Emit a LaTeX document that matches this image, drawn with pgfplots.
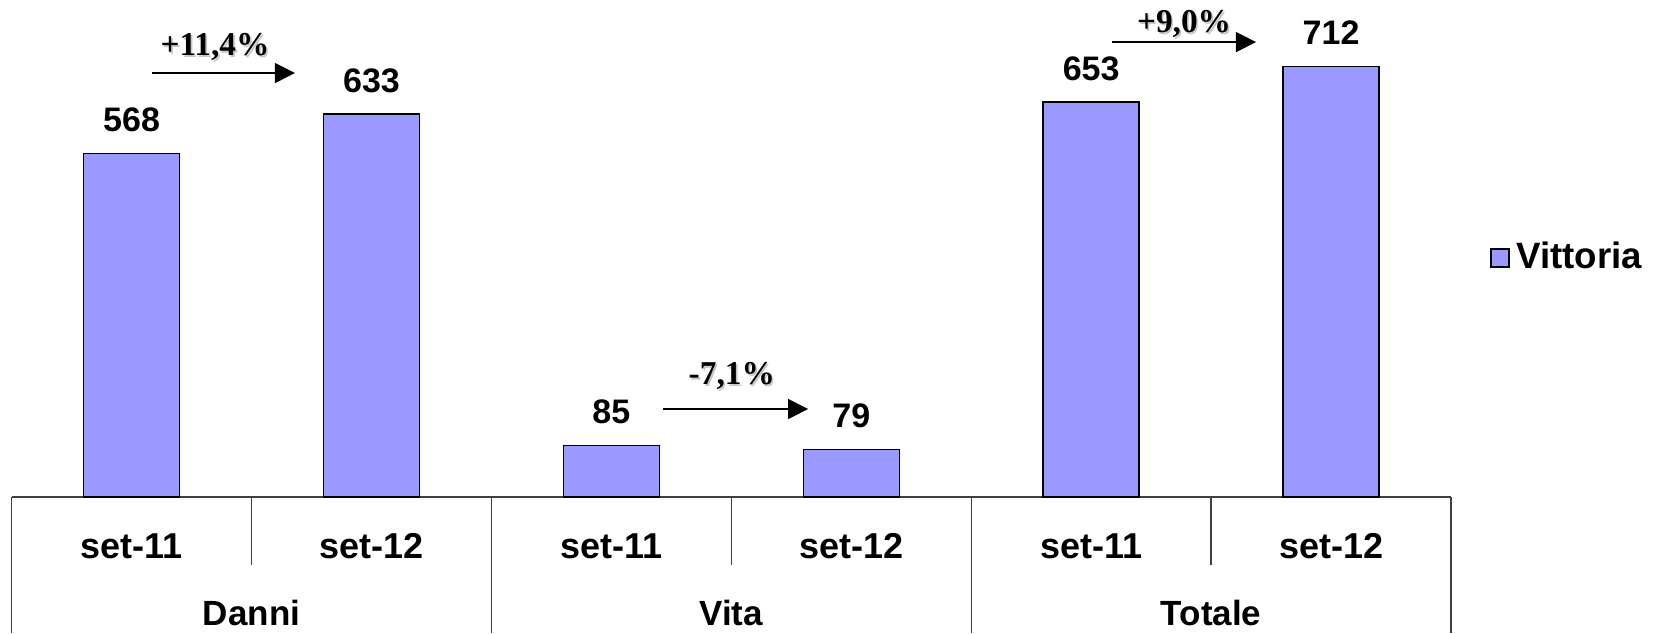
\documentclass[border=0pt]{standalone}
\usepackage{pgfplots}
\pgfplotsset{compat=1.18}
\usepackage{fontspec}
\setmainfont{Liberation Sans}
\newfontfamily\timesf{Liberation Serif}
\usetikzlibrary{arrows.meta}
\definecolor{barcol}{HTML}{9999FF}
\tikzset{pct/.style={font=\timesf\bfseries\fontsize{10}{12}\selectfont},
  pctsh/.style={pct, text=black!22, xshift=0.5pt, yshift=-0.5pt},
  grp/.style={font=\fontsize{10.5}{12}\selectfont\bfseries},
  sep/.style={black!75, line width=0.4pt},
  arr/.style={-{Triangle[length=6pt,width=6pt]}, line width=0.45pt}}
\begin{document}
\begin{tikzpicture}
\begin{axis}[
  scale only axis, width=431.8pt, height=149.1pt,
  xmin=-0.5, xmax=5.5, ymin=0, ymax=821.5,
  axis x line=bottom, axis y line=none,
  x axis line style={-, line width=0.4pt, draw=black!75},
  xtick={0,...,5},
  xticklabels={set-11,set-12,set-11,set-12,set-11,set-12},
  xtick style={draw=none},
  xticklabel style={font=\fontsize{10.8}{12}\selectfont\bfseries, anchor=center, yshift=-10.5pt},
  ybar, bar width=0.4,
  clip=false,
  /pgf/number format/assume math mode=true,
  nodes near coords,
  nodes near coords style={font=\fontsize{10.2}{12}\selectfont\bfseries, anchor=center, yshift=10pt},
  legend style={at={(axis cs:5.66,395)}, anchor=west, draw=none, fill=none, inner sep=0pt,
    font=\fontsize{11}{13}\selectfont\bfseries},
  legend image code/.code={\draw[fill=barcol, draw=black, line width=0.55pt] (0pt,-2.7pt) rectangle (5.4pt,2.7pt);},
]
\addplot[fill=barcol, draw=black, line width=0.45pt] coordinates {(0,568) (1,633) (2,85) (3,79) (4,653) (5,712)};
\addlegendentry{Vittoria}

\draw[sep] (axis cs:-0.5,0) -- (axis cs:-0.5,-224.8);
\draw[sep] (axis cs:1.5,0) -- (axis cs:1.5,-224.8);
\draw[sep] (axis cs:3.5,0) -- (axis cs:3.5,-224.8);
\draw[sep] (axis cs:5.5,0) -- (axis cs:5.5,-224.8);
\draw[sep] (axis cs:0.5,0) -- (axis cs:0.5,-112);
\draw[sep] (axis cs:2.5,0) -- (axis cs:2.5,-112);
\draw[sep] (axis cs:4.5,0) -- (axis cs:4.5,-112);

\node[grp] at (axis cs:0.5,-192) {Danni};
\node[grp] at (axis cs:2.5,-192) {Vita};
\node[grp] at (axis cs:4.5,-192) {Totale};

\draw[arr] (axis cs:0.085,700.8) -- (axis cs:0.681,700.8);
\draw[arr] (axis cs:2.216,145.5) -- (axis cs:2.820,145.5);
\draw[arr] (axis cs:4.087,752) -- (axis cs:4.687,752);

\node[pctsh] at (axis cs:0.348,744) {+11,4\%};
\node[pct] at (axis cs:0.348,744) {+11,4\%};
\node[pctsh] at (axis cs:2.502,200) {-7,1\%};
\node[pct] at (axis cs:2.502,200) {-7,1\%};
\node[pctsh] at (axis cs:4.387,782) {+9,0\%};
\node[pct] at (axis cs:4.387,782) {+9,0\%};

\coordinate (picbl) at (axis cs:-0.5484,-224.8);
\coordinate (pictr) at (axis cs:6.3587,821.5);
\end{axis}
\pgfresetboundingbox
\path (picbl) rectangle (pictr);
\end{tikzpicture}
\end{document}
